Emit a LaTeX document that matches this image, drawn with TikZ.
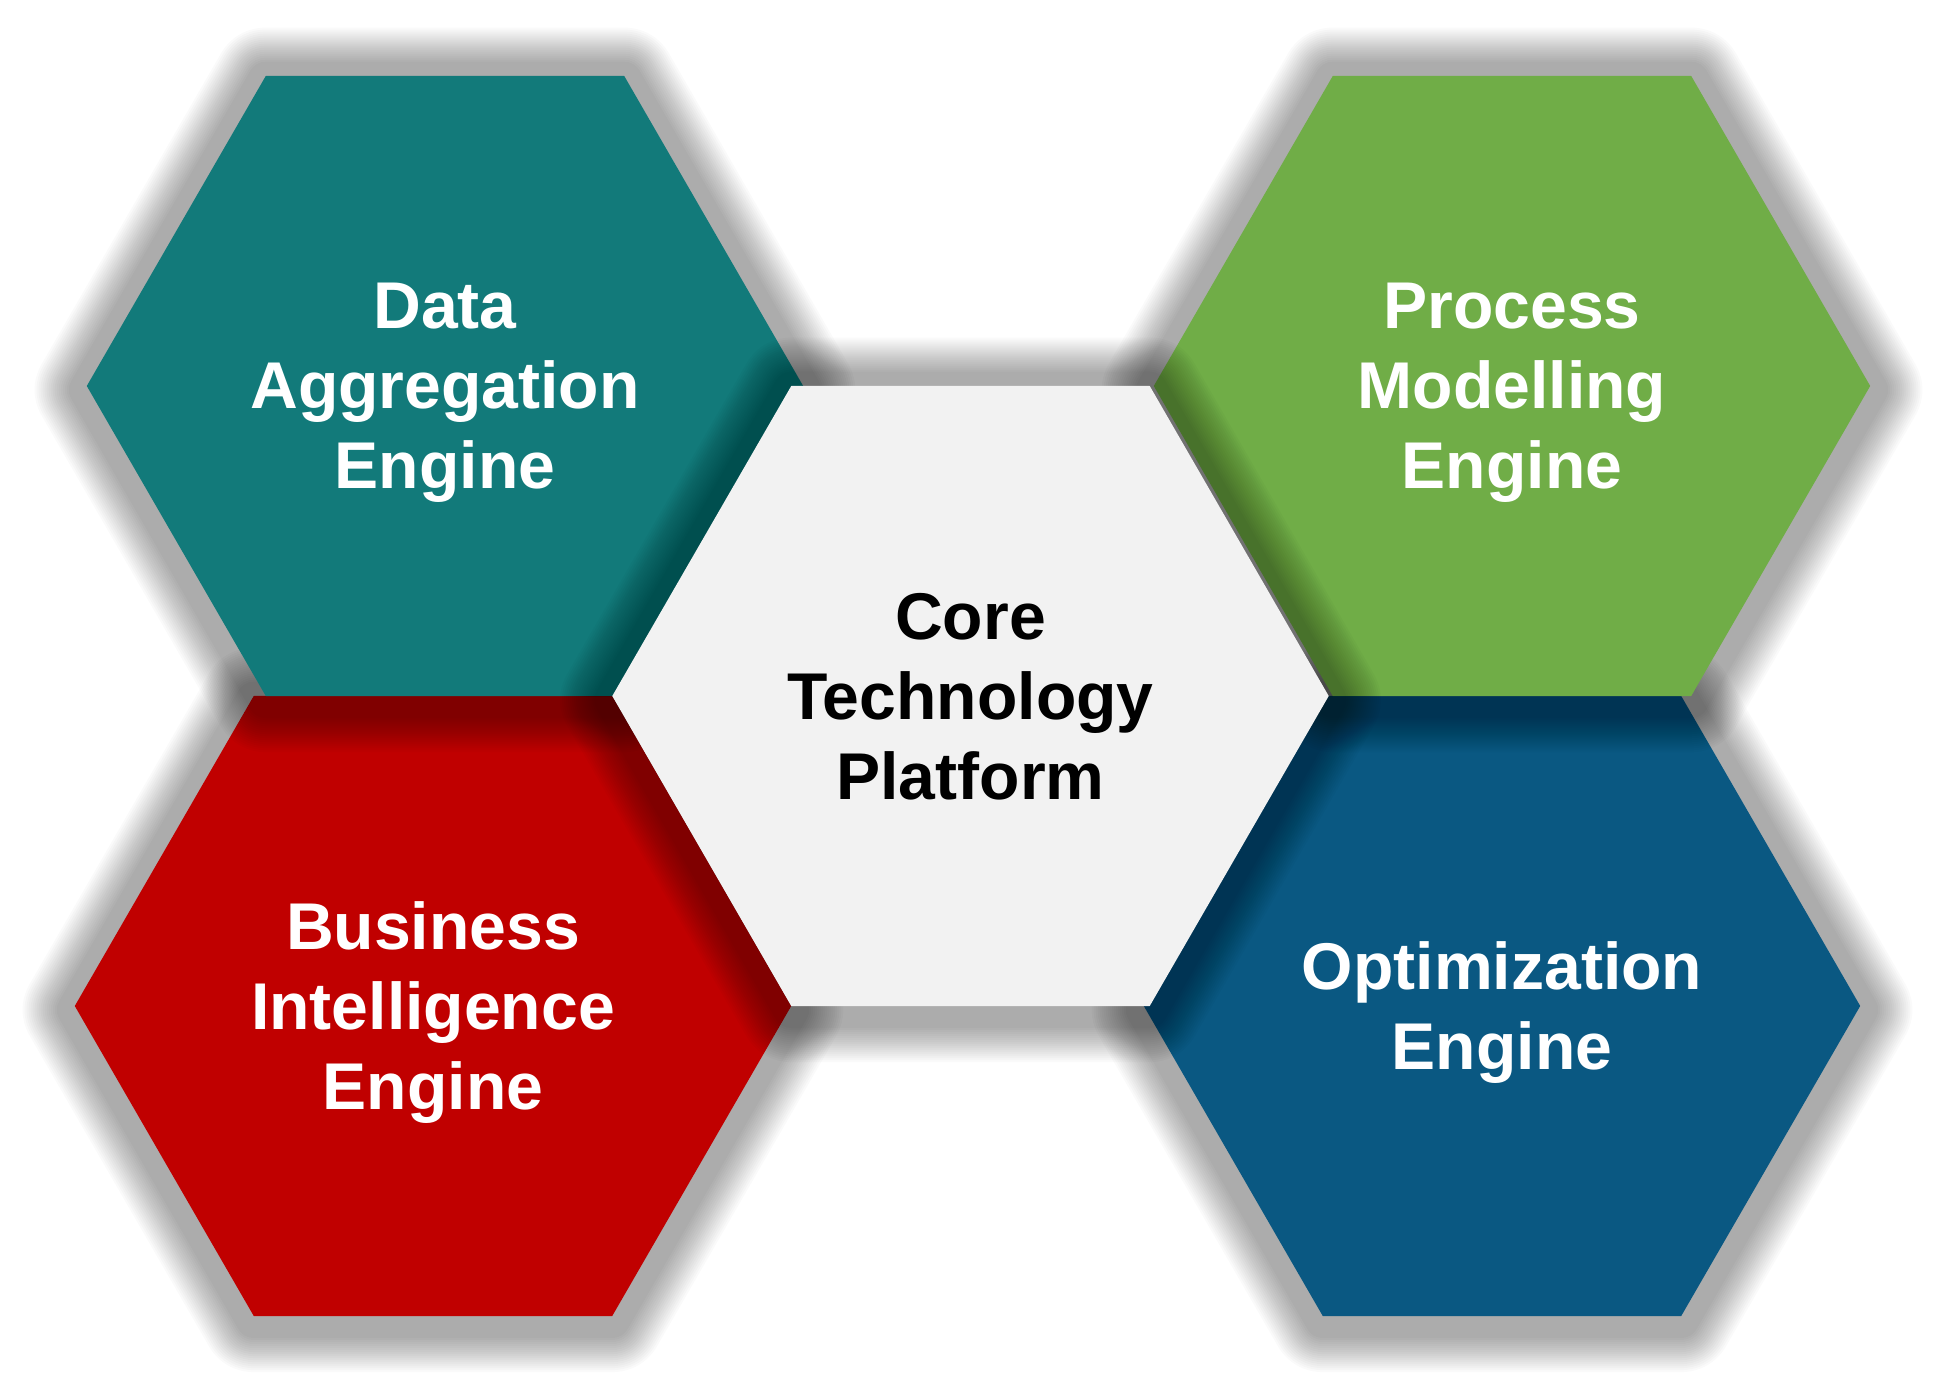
\documentclass[tikz,border=0pt]{standalone}
\usepackage{fontspec}
\setmainfont{Liberation Sans}
\usetikzlibrary{shapes.geometric}
\definecolor{tealc}{HTML}{127A7A}
\definecolor{greenc}{HTML}{70AD47}
\definecolor{redc}{HTML}{C00000}
\definecolor{bluec}{HTML}{0A5882}
\definecolor{corec}{HTML}{F2F2F2}
\tikzset{
  gl/.style={preaction={draw=black,draw opacity=0.019,line width=#1,line join=round,transform canvas={yshift=-1.1pt}}},
  glow/.style={gl=10.24pt,gl=11.38pt,gl=12.52pt,gl=13.66pt,gl=14.79pt,gl=15.93pt,
               gl=17.07pt,gl=18.21pt,gl=19.35pt,gl=20.48pt,gl=21.62pt,gl=22.76pt,
               gl=23.90pt,gl=25.04pt,gl=26.17pt,gl=27.31pt,gl=28.45pt,gl=29.59pt},
  hexbox/.style={regular polygon, regular polygon sides=6, minimum size=7.16cm,
    inner sep=0pt, outer sep=0pt, draw=none, fill=#1, glow, align=center, text depth=0pt,
    font=\fontsize{18.8pt}{22.76pt}\selectfont\bfseries, text=white}
}
\begin{document}
\begin{tikzpicture}[x=0.01cm,y=-0.01cm]
\fill[white] (0,0) rectangle (1947,1392);
\useasboundingbox (0,0) rectangle (1947,1392);
\node[hexbox=redc]   (bi)   at (433,1006) {Business\\Intelligence\\Engine};
\node[hexbox=bluec]  (opt)  at (1502,1006) {Optimization\\Engine};
\node[hexbox=tealc]  (data) at (445,386) {Data\\Aggregation\\Engine};
\node[hexbox=greenc] (proc) at (1512,386) {Process\\Modelling\\Engine};
\node[hexbox=corec, text=black] (core) at (970.5,696) {Core\\Technology\\Platform};
\end{tikzpicture}
\end{document}
